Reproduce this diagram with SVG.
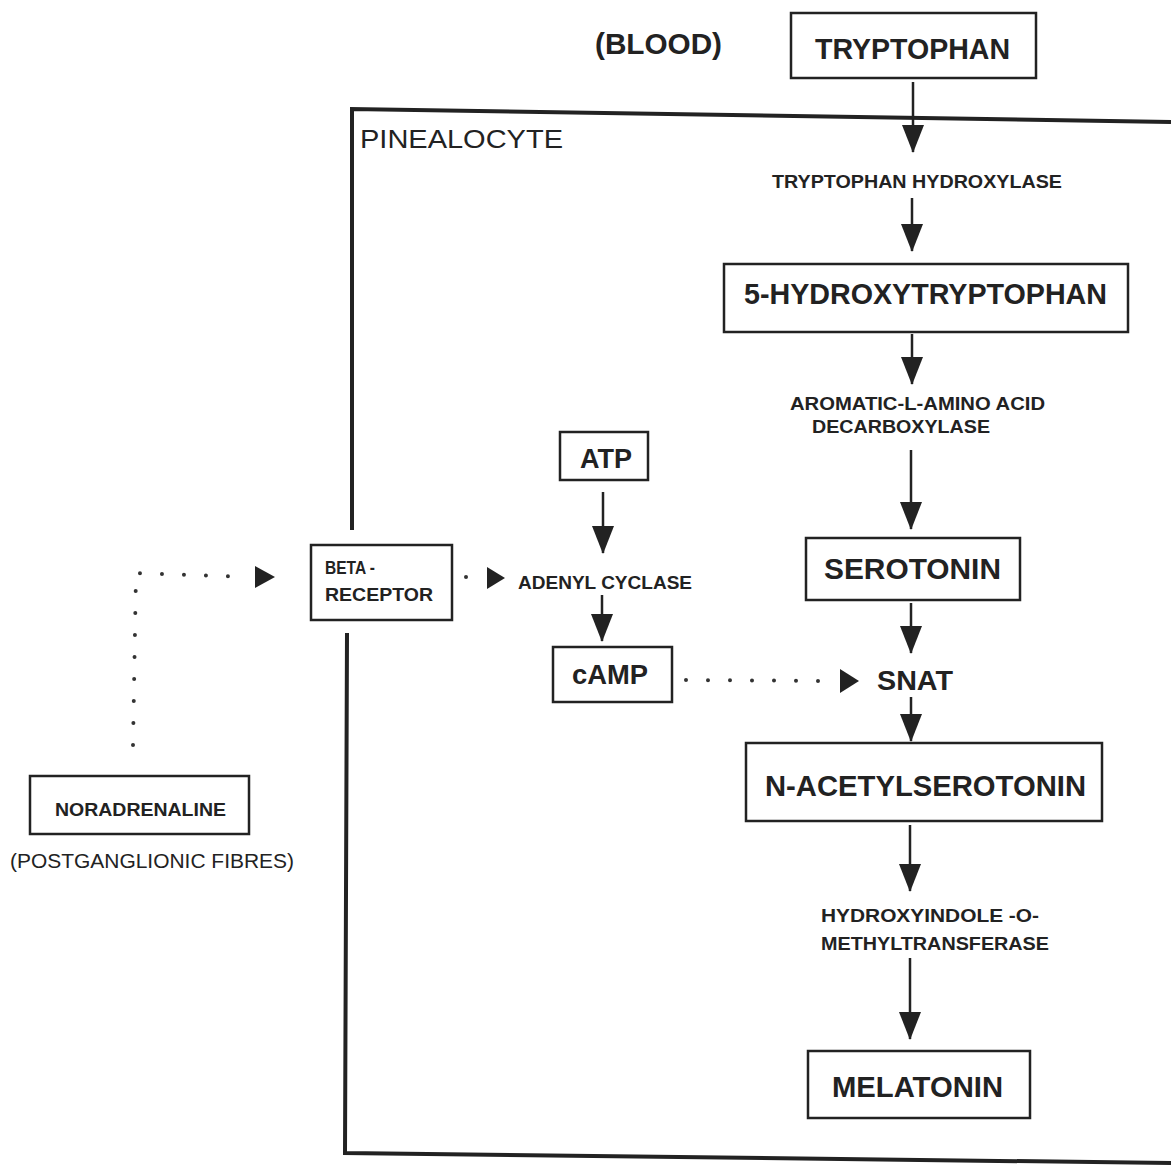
<svg xmlns="http://www.w3.org/2000/svg" width="1171" height="1166" viewBox="0 0 1171 1166">
<style>
text{font-family:"Liberation Sans",Arial,sans-serif;fill:#222}
.big{font-size:29px;font-weight:bold}
.mid{font-size:27px;font-weight:bold}
.sm{font-size:19px;font-weight:bold}
.reg{font-weight:normal}
.box{fill:#fff;stroke:#222;stroke-width:2.5}
.cell{fill:none;stroke:#222;stroke-width:4}
.arr{stroke:#222;stroke-width:2.5;fill:none}
.dot{stroke:#333;stroke-width:4;stroke-linecap:round;stroke-dasharray:0 22;fill:none}
</style>
<defs>
<marker id="ah" markerUnits="userSpaceOnUse" markerWidth="28" markerHeight="22" viewBox="0 0 28 22" refX="27" refY="11" orient="auto">
<polygon points="0,0 28,11 0,22" fill="#222"/>
</marker>
</defs>

<g id="pinealocyte">
<polyline class="cell" points="352,530 352,109 1171,122"/>
<polyline class="cell" points="347,633 345,1153 1171,1163"/>
<text x="360" y="148" style="font-size:26px" textLength="203" lengthAdjust="spacingAndGlyphs">PINEALOCYTE</text>
</g>

<g id="blood"><text x="595" y="54" style="font-size:29px;font-weight:bold" textLength="127" lengthAdjust="spacingAndGlyphs">(BLOOD)</text></g>

<g id="tryptophan"><rect class="box" x="791" y="13" width="245" height="65"/>
<text class="big" x="815" y="59" textLength="195" lengthAdjust="spacingAndGlyphs">TRYPTOPHAN</text></g>

<g id="tryptophan-hydroxylase"><text class="sm" x="772" y="188" textLength="290" lengthAdjust="spacingAndGlyphs">TRYPTOPHAN HYDROXYLASE</text></g>

<g id="hydroxytryptophan"><rect class="box" x="724" y="264" width="404" height="68"/>
<text class="big" x="744" y="304" textLength="363" lengthAdjust="spacingAndGlyphs">5-HYDROXYTRYPTOPHAN</text></g>

<g id="aadc"><text class="sm" x="790" y="410" textLength="255" lengthAdjust="spacingAndGlyphs">AROMATIC-L-AMINO ACID</text>
<text class="sm" x="812" y="433" textLength="178" lengthAdjust="spacingAndGlyphs">DECARBOXYLASE</text></g>

<g id="serotonin"><rect class="box" x="806" y="538" width="214" height="62"/>
<text class="big" x="824" y="579" textLength="177" lengthAdjust="spacingAndGlyphs">SEROTONIN</text></g>

<g id="snat"><text class="mid" x="877" y="690" textLength="76" lengthAdjust="spacingAndGlyphs">SNAT</text></g>

<g id="n-acetylserotonin"><rect class="box" x="746" y="743" width="356" height="78"/>
<text class="big" x="765" y="796" textLength="321" lengthAdjust="spacingAndGlyphs">N-ACETYLSEROTONIN</text></g>

<g id="hiomt"><text class="sm" x="821" y="922" textLength="218" lengthAdjust="spacingAndGlyphs">HYDROXYINDOLE -O-</text>
<text class="sm" x="821" y="950" textLength="228" lengthAdjust="spacingAndGlyphs">METHYLTRANSFERASE</text></g>

<g id="melatonin"><rect class="box" x="808" y="1051" width="222" height="67"/>
<text class="big" x="832" y="1097" textLength="171" lengthAdjust="spacingAndGlyphs">MELATONIN</text></g>

<g id="atp"><rect class="box" x="560" y="432" width="88" height="48"/>
<text class="mid" x="580" y="468" textLength="52" lengthAdjust="spacingAndGlyphs">ATP</text></g>

<g id="adenyl-cyclase"><text class="sm" x="518" y="589" textLength="174" lengthAdjust="spacingAndGlyphs">ADENYL CYCLASE</text></g>

<g id="camp"><rect class="box" x="553" y="647" width="119" height="55"/>
<text class="mid" x="572" y="684" textLength="76" lengthAdjust="spacingAndGlyphs">cAMP</text></g>

<g id="beta-receptor"><rect class="box" x="311" y="545" width="141" height="75"/>
<text class="sm" x="325" y="574" textLength="50" lengthAdjust="spacingAndGlyphs">BETA -</text>
<text class="sm" x="325" y="601" textLength="108" lengthAdjust="spacingAndGlyphs">RECEPTOR</text></g>

<g id="noradrenaline"><rect class="box" x="30" y="776" width="219" height="58"/>
<text class="sm" x="55" y="816" textLength="171" lengthAdjust="spacingAndGlyphs">NORADRENALINE</text>
<text class="reg" x="10" y="868" style="font-size:20px" textLength="284" lengthAdjust="spacingAndGlyphs">(POSTGANGLIONIC FIBRES)</text></g>

<g id="connectors">
<line class="arr" x1="913" y1="82" x2="913" y2="152" marker-end="url(#ah)"/>
<line class="arr" x1="912" y1="198" x2="912" y2="251" marker-end="url(#ah)"/>
<line class="arr" x1="912" y1="334" x2="912" y2="384" marker-end="url(#ah)"/>
<line class="arr" x1="911" y1="450" x2="911" y2="529" marker-end="url(#ah)"/>
<line class="arr" x1="911" y1="603" x2="911" y2="653" marker-end="url(#ah)"/>
<line class="arr" x1="911" y1="697" x2="911" y2="741" marker-end="url(#ah)"/>
<line class="arr" x1="910" y1="825" x2="910" y2="891" marker-end="url(#ah)"/>
<line class="arr" x1="910" y1="958" x2="910" y2="1039" marker-end="url(#ah)"/>
<line class="arr" x1="603" y1="492" x2="603" y2="553" marker-end="url(#ah)"/>
<line class="arr" x1="602" y1="595" x2="602" y2="641" marker-end="url(#ah)"/>
<path class="dot" d="M133,745 L136,573 L248,577"/>
<polygon points="255,566 275,577 255,588" fill="#222"/>
<path class="dot" d="M466,577 L475,577"/>
<polygon points="487,567 505,578 487,589" fill="#222"/>
<path class="dot" d="M686,680 L830,681"/>
<polygon points="840,669 859,681 840,693" fill="#222"/>
</g>
</svg>
